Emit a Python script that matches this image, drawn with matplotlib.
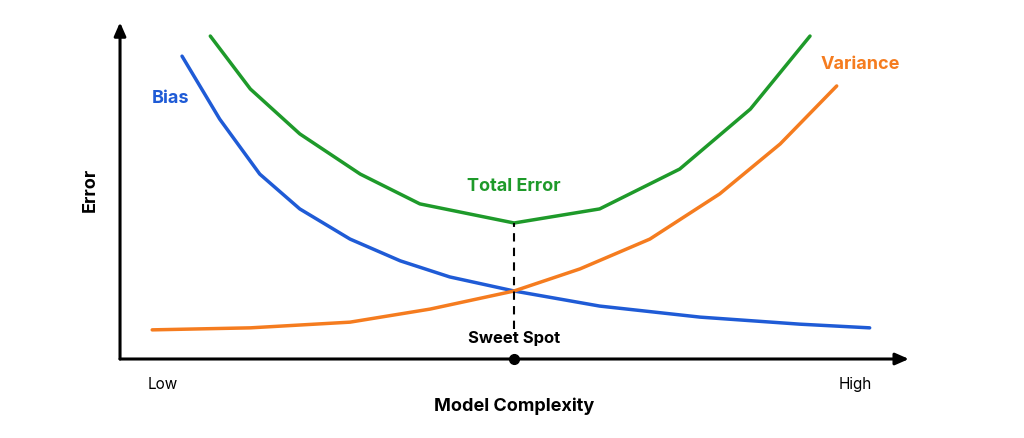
import matplotlib
matplotlib.use("Agg")
import matplotlib.pyplot as plt

bias_x = [0.79,1.27,1.78,2.29,2.93,3.57,4.20,5.02,6.11,7.39,8.66,9.55]
bias_y = [9.04,7.16,5.52,4.48,3.58,2.93,2.45,2.03,1.58,1.25,1.04,0.93]
var_x = [0.41,1.66,2.93,3.95,5.02,5.86,6.75,7.64,8.41,9.13]
var_y = [0.87,0.93,1.10,1.49,2.03,2.69,3.58,4.93,6.42,8.15]
tot_x = [1.15,1.66,2.29,3.06,3.82,5.02,6.11,7.13,8.03,8.79]
tot_y = [9.64,8.06,6.72,5.52,4.63,4.06,4.48,5.67,7.46,9.64]
sweet_x = 5.02
sweet_lo, sweet_hi = 0.9, 4.06

blue, green, orange = "#1f5bd6", "#1e9a2a", "#f57c1f"
plt.rcParams['font.family'] = ['Inter', 'DejaVu Sans']
fig = plt.figure(figsize=(10.24, 4.39), dpi=100)
ax = fig.add_axes([0, 0, 1, 1])
ax.set_xlim(-1.529, 11.516)
ax.set_ylim(-2.358, 10.746)
ax.axis("off")

ax.annotate("", xy=(10.05, 0), xytext=(0, 0), arrowprops=dict(arrowstyle="-|>,head_length=0.8,head_width=0.35", color="black", lw=2.2, shrinkA=0, shrinkB=0))
ax.annotate("", xy=(0, 10.05), xytext=(0, 0), arrowprops=dict(arrowstyle="-|>,head_length=0.8,head_width=0.35", color="black", lw=2.2, shrinkA=0, shrinkB=0))

ax.plot(bias_x, bias_y, color=blue, lw=2.5, solid_capstyle="round")
ax.plot(var_x, var_y, color=orange, lw=2.5, solid_capstyle="round")
ax.plot(tot_x, tot_y, color=green, lw=2.5, solid_capstyle="round")
ax.plot([sweet_x, sweet_x], [sweet_lo, sweet_hi], color="black", lw=1.5, ls=(0, (4, 3)))
ax.plot([sweet_x], [0], "o", color="black", ms=7, clip_on=False)

fs = 13
ax.text(0.64, 7.82, "Bias", color=blue, fontsize=fs, fontweight="bold", ha="center", va="center")
ax.text(9.43, 8.81, "Variance", color=orange, fontsize=fs, fontweight="bold", ha="center", va="center")
ax.text(5.02, 5.19, "Total Error", color=green, fontsize=fs, fontweight="bold", ha="center", va="center")
ax.text(5.02, 0.63, "Sweet Spot", color="black", fontsize=12, fontweight="bold", ha="center", va="center")
ax.text(0.55, -0.72, "Low", fontsize=11, ha="center", va="center")
ax.text(9.36, -0.72, "High", fontsize=11, ha="center", va="center")
ax.text(5.02, -1.37, "Model Complexity", fontsize=13, fontweight="bold", ha="center", va="center")
ax.text(-0.38, 5.07, "Error", fontsize=13, fontweight="bold", ha="center", va="center", rotation=90)

fig.savefig("out.png", dpi=100, facecolor="white")
